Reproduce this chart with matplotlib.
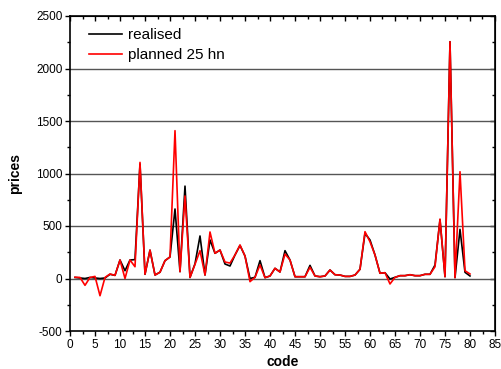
import matplotlib.pyplot as plt
import numpy as np
from matplotlib.ticker import MultipleLocator

plt.rcParams['font.family'] = ['Liberation Sans', 'DejaVu Sans']
plt.rcParams['axes.unicode_minus'] = False

# point codes 1..80
code = np.arange(1, 81)

realised = [10, 5, 0, 10, 5, 0, 5, 40, 30, 176,
            74, 176, 180, 1090, 40, 270, 33, 60, 170, 205,
            662, 65, 880, 10, 140, 405, 33, 367, 240, 271,
            138, 119, 224, 315, 214, 0, 11, 170, 8, 24,
            97, 62, 265, 176, 17, 17, 17, 125, 24, 17,
            24, 81, 36, 33, 20, 20, 33, 88, 430, 367,
            224, 50, 55, -5, 11, 27, 27, 36, 27, 27,
            40, 40, 128, 560, 17, 2255, 8, 468, 59, 24]

planned = [12, 10, -65, 10, 20, -164, 10, 43, 30, 176,
           0, 176, 112, 1106, 40, 270, 33, 60, 170, 205,
           1408, 65, 786, 10, 135, 265, 33, 443, 240, 271,
           157, 147, 224, 319, 214, -30, 11, 129, 8, 24,
           97, 62, 233, 176, 17, 17, 17, 107, 24, 17,
           24, 81, 36, 33, 20, 20, 33, 88, 446, 350,
           224, 50, 55, -52, 11, 27, 27, 36, 27, 27,
           40, 40, 112, 566, 17, 2255, 8, 1017, 74, 43]

fig = plt.figure(figsize=(5.01, 3.69), dpi=100)
ax = fig.add_axes([70 / 501, 1 - 331 / 369, 425 / 501, 315 / 369])

for y in [0, 500, 1000, 1500, 2000]:
    ax.axhline(y, color='#555555', lw=1.0, zorder=1)

ax.plot(code, realised, color='black', lw=1.2, label='realised', zorder=3)
ax.plot(code, planned, color='red', lw=1.2, label='planned 25 hn', zorder=4)

ax.set_xlim(0, 85)
ax.set_ylim(-500, 2500)
ax.xaxis.set_major_locator(MultipleLocator(5))
ax.xaxis.set_minor_locator(MultipleLocator(2.5))
ax.yaxis.set_major_locator(MultipleLocator(500))
ax.yaxis.set_minor_locator(MultipleLocator(250))

ax.tick_params(which='both', labelsize=8.5, width=1.0, pad=2)
ax.tick_params(which='major', length=3.5)
ax.tick_params(which='minor', length=2)
ax.tick_params(which='both', direction='out', top=False, right=False)
for side in ['top', 'right']:
    sec = ax.secondary_xaxis('top') if side == 'top' else ax.secondary_yaxis('right')
    axis = sec.xaxis if side == 'top' else sec.yaxis
    axis.set_major_locator(MultipleLocator(5 if side == 'top' else 500))
    axis.set_minor_locator(MultipleLocator(2.5 if side == 'top' else 250))
    sec.tick_params(which='both', direction='in', labelleft=False, labelright=False,
                    labeltop=False, labelbottom=False, width=1.0)
    sec.tick_params(which='major', length=3.5)
    sec.tick_params(which='minor', length=2)

for s in ax.spines.values():
    s.set_linewidth(1.2)

ax.set_xlabel('code', fontsize=10, fontweight='bold', labelpad=3)
ax.set_ylabel('prices', fontsize=10, fontweight='bold', labelpad=10)

ax.legend(loc='upper left', frameon=False, fontsize=11, handlelength=2.15,
          handletextpad=0.4, labelspacing=0.4, borderaxespad=0, borderpad=0,
          bbox_to_anchor=(19 / 425, 1 - 12 / 315))

fig.savefig('out.png', dpi=100)
